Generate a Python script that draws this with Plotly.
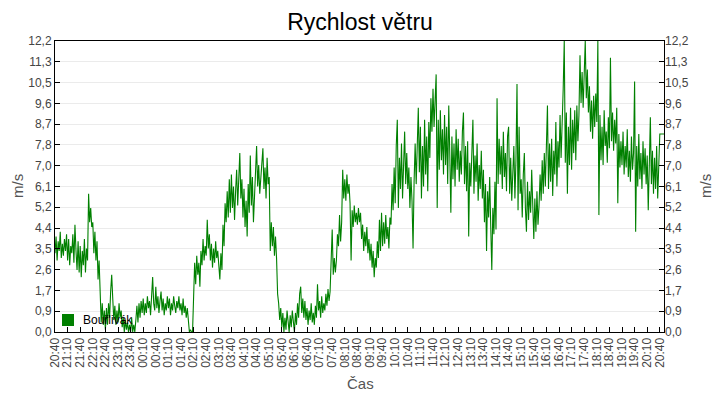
import pandas as pd
import plotly.graph_objects as go

start = "2024-05-01 20:40"
step_seconds = 150  # one reading every 2.5 minutes

# wind speed (m/s), one row per half hour starting 20:40
wind = [
    3.3, 4.0, 3.0, 3.8, 3.4, 4.2, 3.1, 3.7, 3.2, 3.9, 3.4, 4.1,
    3.0, 3.9, 2.8, 3.6, 3.3, 4.1, 2.9, 4.5, 3.4, 2.6, 3.8, 2.5,
    3.6, 2.3, 3.4, 2.8, 3.9, 2.5, 3.5, 3.0, 5.8, 4.6, 5.2, 4.4,
    4.6, 3.3, 4.2, 3.0, 3.8, 2.2, 3.0, 1.1, 0.4, 1.2, 0.3, 0.9,
    0.1, 1.0, 0.3, 1.2, 0.6, 1.7, 2.4, 1.4, 0.5, 1.1, 0.3, 0.9,
    0.4, 1.2, 0.6, 0.9, 0.2, 0.6, 0.0, 0.5, 0.1, 0.4, 0.0, 0.3,
    0.0, 0.6, 0.0, 0.3, 0.0, 0.5, 1.1, 0.4, 1.2, 0.6, 1.3, 0.8,
    1.4, 0.7, 1.2, 0.8, 1.5, 1.0, 1.3, 0.7, 1.6, 2.3, 1.2, 0.9,
    1.9, 1.0, 1.5, 0.8, 1.3, 1.7, 0.9, 1.4, 0.7, 1.2, 0.9, 1.5,
    1.0, 1.4, 0.7, 1.2, 0.9, 1.5, 1.1, 0.8, 1.3, 1.0, 1.5, 0.9,
    1.2, 0.7, 1.4, 0.8, 1.1, 0.6, 1.0, 0.3, 0.0, 0.1, 0.0, 0.0,
    1.3, 2.9, 2.0, 3.2, 2.4, 2.9, 1.9, 3.4, 2.8, 3.9, 3.0, 3.6,
    3.2, 4.7, 3.5, 4.1, 3.0, 3.7, 2.7, 3.5, 2.9, 3.8, 3.1, 3.4,
    2.8, 2.2, 3.3, 2.6, 4.5, 3.6, 5.4, 4.6, 5.9, 4.8, 6.4, 5.0,
    6.6, 5.2, 6.1, 4.7, 5.9, 6.8, 5.3, 6.2, 7.5, 5.6, 6.4, 4.8,
    6.0, 4.4, 5.5, 4.0, 6.2, 5.0, 7.4, 5.3, 6.5, 4.6, 5.8, 6.6,
    7.8, 6.1, 7.0, 5.8, 6.6, 7.2, 7.7, 6.0, 6.9, 5.6, 7.3, 6.2,
    6.5, 3.4, 4.6, 3.6, 4.4, 3.2, 4.0, 3.1, 1.6, 1.2, 0.5, 1.0,
    0.2, 0.8, 0.0, 0.6, 0.1, 0.9, 0.3, 0.0, 0.7, 0.2, 0.9, 0.4,
    0.0, 0.8, 0.3, 1.2, 0.6, 1.6, 1.9, 0.8, 1.4, 0.6, 1.3, 0.5,
    1.0, 0.3, 0.9, 0.5, 1.2, 0.4, 0.8, 0.3, 1.1, 0.6, 2.0, 0.9,
    1.3, 0.6, 1.5, 0.8, 1.2, 0.9, 1.6, 1.1, 1.8, 1.3, 1.7, 3.0,
    4.3, 2.4, 3.1, 2.5, 3.0, 4.1, 3.6, 4.9, 3.8, 4.6, 6.8, 5.6,
    6.4, 5.5, 6.6, 5.8, 6.2, 5.4, 3.0, 5.1, 4.4, 5.3, 4.6, 5.0,
    4.5, 5.2, 4.6, 5.0, 3.9, 4.5, 3.4, 4.2, 3.6, 4.4, 3.3, 3.9,
    3.0, 3.7, 2.7, 3.4, 2.3, 3.1, 2.7, 3.8, 3.1, 4.7, 3.4, 5.0,
    3.6, 4.6, 3.7, 4.9, 3.9, 4.4, 3.5, 4.8, 4.5, 6.2, 5.1, 6.9,
    5.4, 7.8, 8.9, 5.2, 7.3, 6.0, 7.9, 5.6, 6.7, 8.4, 6.2, 7.5,
    6.0, 6.9, 5.2, 6.5, 5.5, 3.5, 6.3, 7.9, 6.2, 8.2, 9.4, 6.7,
    8.6, 5.6, 7.8, 6.1, 8.9, 6.6, 8.2, 5.9, 8.8, 7.3, 9.8, 8.4,
    10.2, 8.6, 9.7, 10.8, 5.2, 8.9, 6.8, 9.3, 7.2, 8.5, 6.6, 9.1,
    7.0, 8.6, 6.2, 9.5, 7.4, 5.0, 8.2, 6.4, 7.9, 6.1, 8.5, 6.8,
    8.1, 6.3, 7.6, 6.6, 8.4, 9.2, 6.2, 7.8, 5.9, 8.0, 4.0, 7.1,
    6.1, 7.7, 8.9, 5.8, 7.4, 6.3, 7.9, 5.5, 7.0, 6.0, 7.6, 5.6,
    6.8, 4.6, 6.2, 3.4, 5.9, 4.8, 6.5, 4.4, 2.6, 5.2, 4.1, 6.3,
    4.3, 9.8, 6.2, 8.1, 6.6, 7.8, 6.0, 8.4, 6.5, 7.5, 5.9, 8.2,
    8.6, 5.8, 7.3, 5.5, 6.9, 7.8, 5.6, 7.2, 10.4, 5.1, 8.6, 5.8,
    6.4, 4.8, 6.6, 7.5, 5.2, 4.2, 6.3, 4.7, 5.9, 5.0, 6.8, 4.6,
    3.9, 5.6, 4.2, 5.9, 4.5, 5.3, 6.6, 5.5, 7.2, 5.8, 7.5, 6.1,
    7.4, 9.5, 6.0, 7.9, 6.3, 8.1, 5.7, 7.6, 6.6, 8.8, 6.1, 8.0,
    6.9, 9.1, 7.3, 8.4, 10.2, 12.2, 7.1, 9.2, 5.8, 8.6, 7.0, 9.4,
    6.8, 8.9, 7.5, 9.3, 7.2, 9.5, 8.0, 9.1, 11.6, 9.6, 10.9, 9.4,
    10.6, 12.2, 9.8, 11.0, 9.2, 10.3, 8.4, 9.7, 8.1, 9.9, 8.6, 10.0,
    8.8, 12.2, 4.9, 9.1, 7.2, 8.6, 7.0, 9.3, 7.8, 8.4, 7.1, 9.0,
    7.7, 11.5, 8.0, 9.2, 7.6, 8.9, 7.9, 9.4, 5.4, 8.3, 6.9, 8.0,
    7.0, 8.4, 6.6, 7.8, 6.9, 8.5, 6.5, 7.6, 6.3, 8.2, 6.8, 7.5,
    10.5, 4.2, 7.8, 6.1, 8.3, 6.4, 7.5, 6.0, 8.0, 6.6, 7.7, 6.2,
    7.4, 5.1, 7.0, 9.0, 6.2, 7.6, 5.8, 7.3, 6.0, 7.8, 5.6, 6.9,
    8.3, 8.3, 8.3, 8.3, 8.3,
]

series_name = "Bouřlivák"
title_text = "Rychlost větru"
y_title = "m/s"
x_title = "Čas"

times = pd.date_range(start, periods=len(wind), freq=f"{step_seconds}s")
tick_times = pd.date_range(start, periods=49, freq="30min")
tick_labels = [t.strftime("%H:%M") for t in tick_times]

y_max = 12.2
y_ticks = [y_max * k / 14 for k in range(15)]
y_labels = [f"{v:.1f}".replace(".", ",") for v in y_ticks]

GREEN = "#008000"
FONT = "Liberation Sans, Arial, sans-serif"

fig = go.Figure()
fig.add_trace(go.Scatter(
    x=times, y=wind, mode="lines", name=series_name,
    line=dict(color=GREEN, width=1.1), showlegend=False,
))
# same series bound to the right-hand axis (invisible) so that axis is drawn
fig.add_trace(go.Scatter(
    x=times, y=wind, mode="lines", name=series_name, yaxis="y2",
    line=dict(color=GREEN, width=1), opacity=0, showlegend=False, hoverinfo="skip",
))

W, H = 720, 400
L, R, T, B = 55, 56, 41, 68
pw, ph = W - L - R, H - T - B

def px(x):
    return (x - L) / pw

def py(y):
    return (H - B - y) / ph

tick_font = dict(family=FONT, size=12, color="#444444")

fig.update_layout(
    width=W, height=H,
    margin=dict(l=L, r=R, t=T, b=B),
    paper_bgcolor="white", plot_bgcolor="white",
    font=dict(family=FONT),
    title=dict(text=title_text, x=0.5, xanchor="center", y=1 - 22 / H, yanchor="middle",
               font=dict(family=FONT, size=23, color="black")),
    xaxis=dict(
        type="date",
        range=[times[0], times[-1]],
        tickmode="array", tickvals=list(tick_times), ticktext=tick_labels,
        tickangle=-90, ticks="inside", ticklen=5, tickcolor="black",
        showline=True, linecolor="black", linewidth=1, mirror=True,
        showgrid=False, zeroline=False, tickfont=tick_font,
    ),
    yaxis=dict(
        range=[0, y_max], tickmode="array", tickvals=y_ticks, ticktext=y_labels,
        ticks="inside", ticklen=5, tickcolor="black",
        showline=True, linecolor="black", linewidth=1, mirror=True,
        showgrid=True, gridcolor="#ebebeb", gridwidth=1, zeroline=False,
        tickfont=tick_font,
    ),
    yaxis2=dict(
        overlaying="y", side="right", anchor="x", range=[0, y_max],
        tickmode="array", tickvals=y_ticks, ticktext=y_labels,
        ticks="inside", ticklen=5, tickcolor="black",
        showline=False, showgrid=False, zeroline=False, tickfont=tick_font,
    ),
    showlegend=False,
)

fig.add_shape(type="rect", xref="paper", yref="paper",
              x0=px(62), x1=px(74), y0=py(326), y1=py(314),
              fillcolor=GREEN, line=dict(width=0))

annos = [
    dict(text=series_name, x=px(81), y=py(319.5), xanchor="left", yanchor="middle",
         font=dict(family=FONT, size=12, color="black")),
    dict(text=y_title, x=px(17), y=py(186), textangle=-90, xanchor="center", yanchor="middle",
         font=dict(family=FONT, size=15, color="#555555")),
    dict(text=y_title, x=px(705), y=py(186), textangle=-90, xanchor="center", yanchor="middle",
         font=dict(family=FONT, size=15, color="#555555")),
    dict(text=x_title, x=px(360), y=py(383), xanchor="center", yanchor="middle",
         font=dict(family=FONT, size=15, color="#555555")),
]
for a in annos:
    fig.add_annotation(xref="paper", yref="paper", showarrow=False, **a)

fig.write_html("out.html")
